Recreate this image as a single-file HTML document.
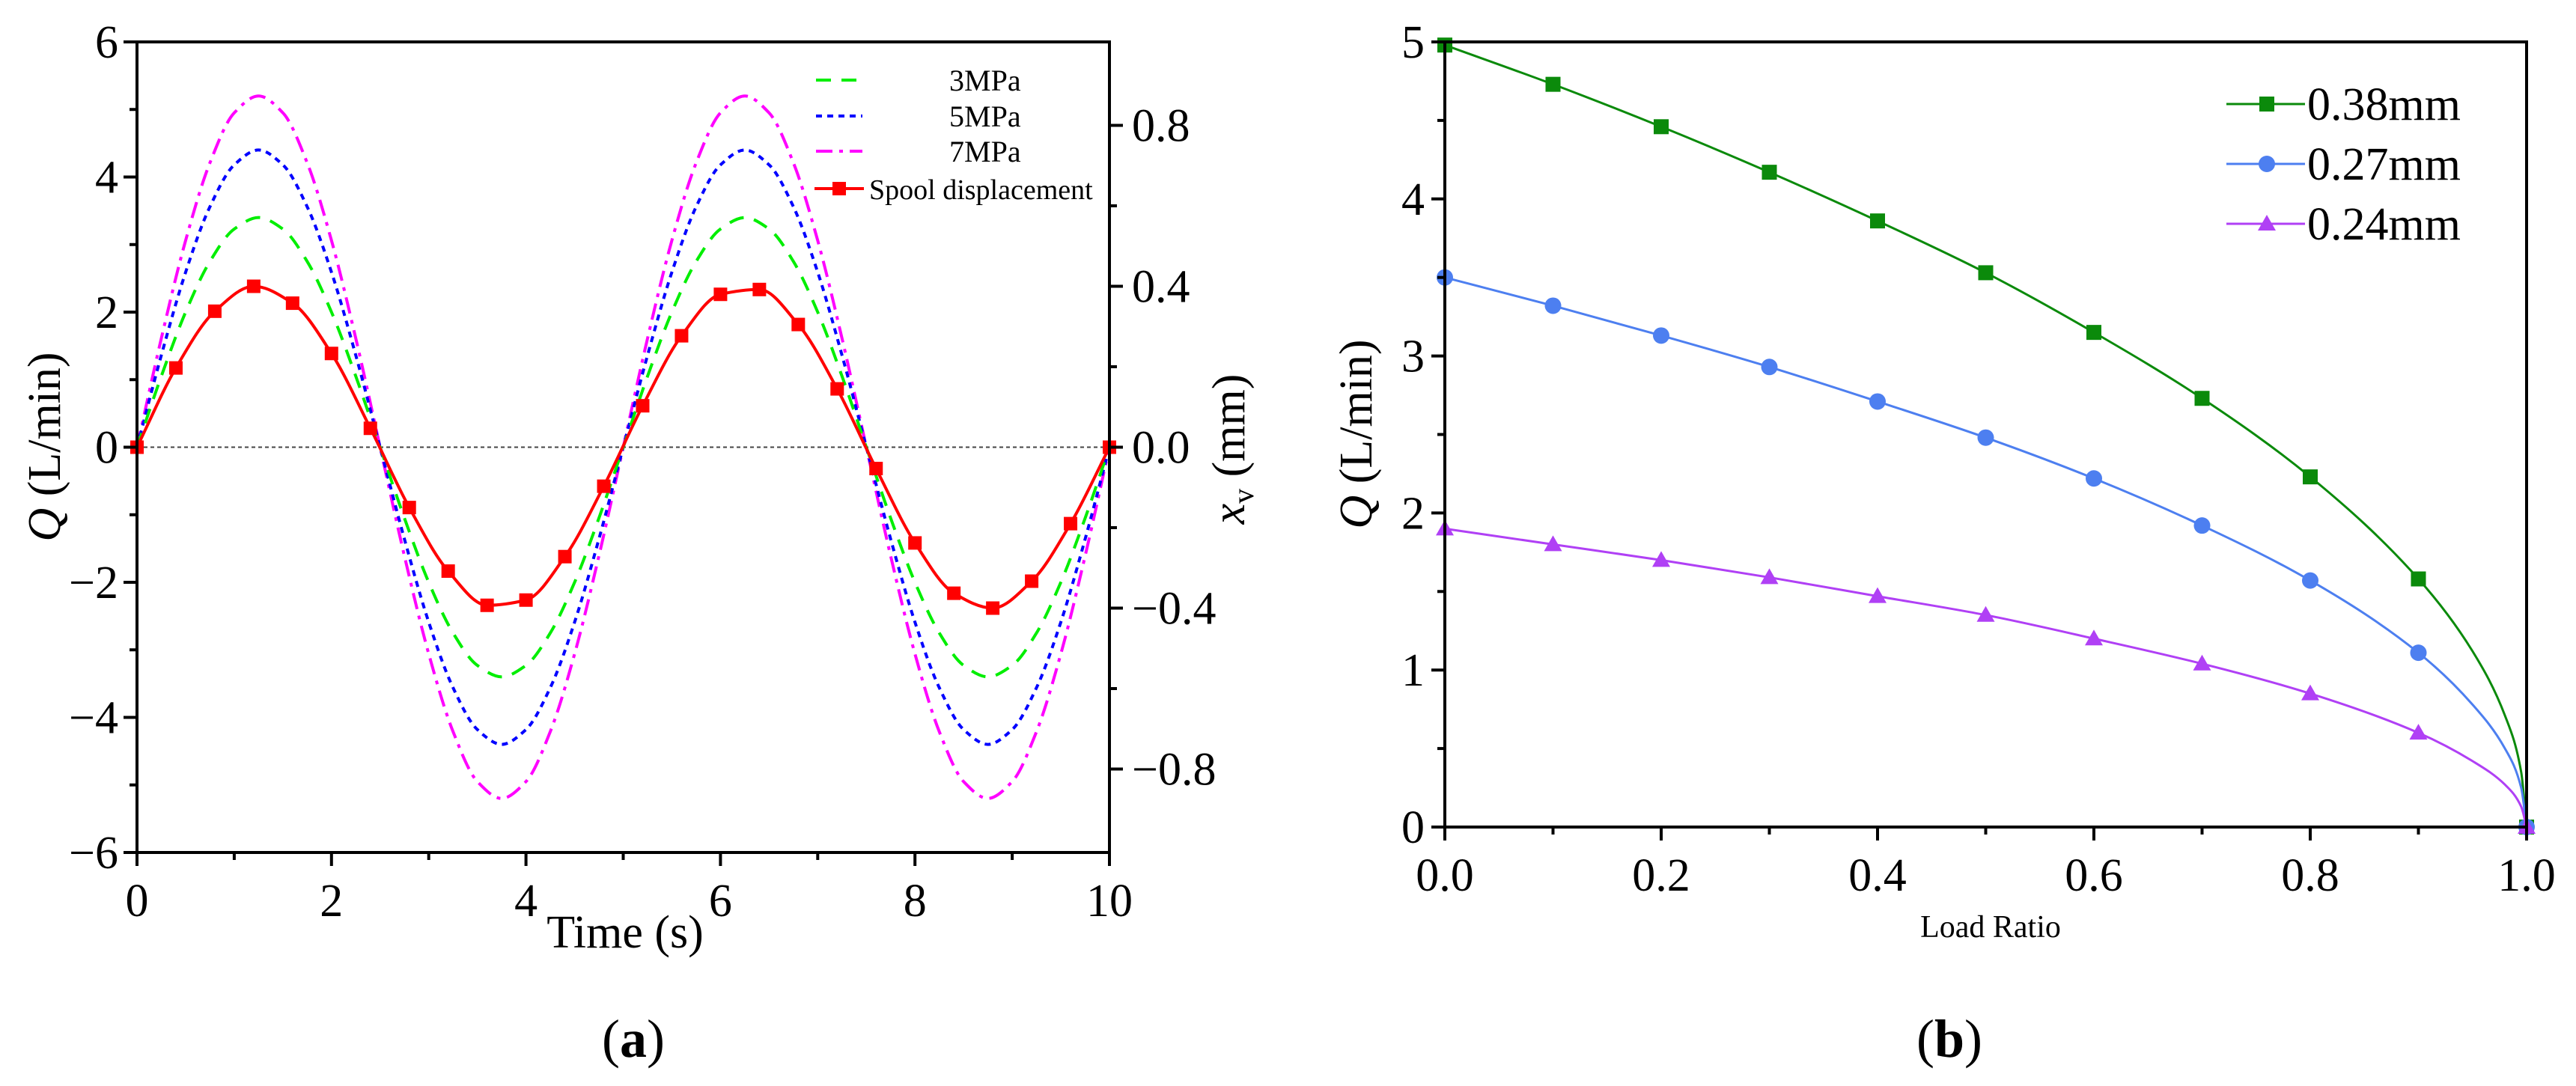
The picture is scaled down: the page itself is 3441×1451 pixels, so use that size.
<!DOCTYPE html>
<html><head><meta charset="utf-8">
<style>
html,body{margin:0;padding:0;background:#fff;}
svg{display:block;font-family:"Liberation Serif","DejaVu Serif",serif;}
text{font-family:"Liberation Serif","DejaVu Serif",serif;}
</style></head>
<body>
<svg id="fig" width="3441" height="1451" viewBox="0 0 3441 1451" xmlns="http://www.w3.org/2000/svg" font-family="Liberation Serif, DejaVu Serif, serif">
<g id="pa"></g>
<g id="pb"></g>
</svg>
<script>
// ---------- Panel (a) data ----------
const aTime = [0,0.25,0.5,0.75,1,1.25,1.5,1.75,2,2.25,2.5,2.75,3,3.25,3.5,3.75,4,4.25,4.5,4.75,5,5.25,5.5,5.75,6,6.25,6.5,6.75,7,7.25,7.5,7.75,8,8.25,8.5,8.75,9,9.25,9.5,9.75,10];
const aQ3 = [0,1.05,2.0,2.75,3.23,3.4,3.23,2.75,2.0,1.05,0,-1.05,-2.0,-2.75,-3.23,-3.4,-3.23,-2.75,-2.0,-1.05,0,1.05,2.0,2.75,3.23,3.4,3.23,2.75,2.0,1.05,0,-1.05,-2.0,-2.75,-3.23,-3.4,-3.23,-2.75,-2.0,-1.05,0];
const aQ5 = [0,1.36,2.59,3.56,4.18,4.4,4.18,3.56,2.59,1.36,0,-1.36,-2.59,-3.56,-4.18,-4.4,-4.18,-3.56,-2.59,-1.36,0,1.36,2.59,3.56,4.18,4.4,4.18,3.56,2.59,1.36,0,-1.36,-2.59,-3.56,-4.18,-4.4,-4.18,-3.56,-2.59,-1.36,0];
const aQ7 = [0,1.61,3.06,4.21,4.95,5.2,4.95,4.21,3.06,1.61,0,-1.61,-3.06,-4.21,-4.95,-5.2,-4.95,-4.21,-3.06,-1.61,0,1.61,3.06,4.21,4.95,5.2,4.95,4.21,3.06,1.61,0,-1.61,-3.06,-4.21,-4.95,-5.2,-4.95,-4.21,-3.06,-1.61,0];
const aSpoolT = [0,0.4,0.8,1.2,1.6,2.0,2.4,2.8,3.2,3.6,4.0,4.4,4.8,5.2,5.6,6.0,6.4,6.8,7.2,7.6,8.0,8.4,8.8,9.2,9.6,10];
const aSpoolMM = [0,0.197,0.338,0.4,0.358,0.233,0.047,-0.15,-0.308,-0.393,-0.38,-0.272,-0.097,0.103,0.277,0.38,0.392,0.305,0.145,-0.053,-0.238,-0.363,-0.4,-0.333,-0.19,0];
const aXTicks = [0,2,4,6,8,10];
const aYTicks = [-6,-4,-2,0,2,4,6];
const aY2Ticks = [-0.8,-0.4,0.0,0.4,0.8];
const aY2Labels = ["\u22120.8","\u22120.4","0.0","0.4","0.8"];

// ---------- Panel (b) data ----------
const bX = [0,0.1,0.2,0.3,0.4,0.5,0.6,0.7,0.8,0.9,1.0];
const b38 = [4.98,4.73,4.46,4.17,3.86,3.53,3.15,2.73,2.23,1.58,0];
const b27 = [3.50,3.32,3.13,2.93,2.71,2.48,2.22,1.92,1.57,1.11,0];
const b24 = [1.90,1.80,1.70,1.59,1.47,1.35,1.20,1.04,0.85,0.60,0];
const bTailX = [0.95,0.98,0.995];
const b38Tail = [1.12,0.71,0.35];
const b27Tail = [0.78,0.50,0.25];
const b24Tail = [0.42,0.27,0.13];
const bXTicks = [0,0.2,0.4,0.6,0.8,1.0];
const bXLabels = ["0.0","0.2","0.4","0.6","0.8","1.0"];
const bYTicks = [0,1,2,3,4,5];

const NS="http://www.w3.org/2000/svg";
function mk(tag,parent,attrs,text){const e=document.createElementNS(NS,tag);for(const k in attrs)e.setAttribute(k,attrs[k]);if(text!==undefined)e.textContent=text;parent.appendChild(e);return e;}
function monotonePath(px,py){
  const n=px.length; if(n<2) return "";
  const d=[],m=new Array(n);
  for(let i=0;i<n-1;i++) d.push((py[i+1]-py[i])/(px[i+1]-px[i]));
  m[0]=d[0]; m[n-1]=d[n-2];
  for(let i=1;i<n-1;i++){ if(d[i-1]*d[i]<=0) m[i]=0; else { const h0=px[i]-px[i-1],h1=px[i+1]-px[i]; const w1=2*h1+h0,w2=h1+2*h0; m[i]=(w1+w2)/(w1/d[i-1]+w2/d[i]); } }
  let s="M"+px[0].toFixed(2)+","+py[0].toFixed(2);
  for(let i=0;i<n-1;i++){const h=(px[i+1]-px[i])/3;
    s+=" C"+(px[i]+h).toFixed(2)+","+(py[i]+m[i]*h).toFixed(2)+" "+(px[i+1]-h).toFixed(2)+","+(py[i+1]-m[i+1]*h).toFixed(2)+" "+px[i+1].toFixed(2)+","+py[i+1].toFixed(2);}
  return s;
}

// ================= Panel A =================
(function(){
const g=document.getElementById('pa');
const L=183,R=1482,T=56,B=1139;
const x=t=>L+(t-0)/(10-0)*(R-L);
const y=q=>B-(q-(-6))/(12)*(B-T);
const y2=v=>(T+B)/2 - v*537.5;

let e;
e=mk('line',g,{x1:L,y1:y(0),x2:R,y2:y(0),stroke:'#444','stroke-width':2,'stroke-dasharray':'5,4'});
 

const series=[
 {v:aQ7,c:'#ff00ff',dash:'22,9,5,9',name:'series-7mpa'},
 {v:aQ5,c:'#0000ff',dash:'8,7',name:'series-5mpa'},
 {v:aQ3,c:'#00ee00',dash:'20,14',name:'series-3mpa'}
];
series.forEach(s=>{
  const p=mk('path',g,{d:monotonePath(aTime.map(x),s.v.map(y)),fill:'none',stroke:s.c,'stroke-width':4,'stroke-dasharray':s.dash});
   
});
const sp=mk('path',g,{d:monotonePath(aSpoolT.map(x),aSpoolMM.map(y2)),fill:'none',stroke:'#ff0000','stroke-width':4});
 
aSpoolT.forEach((t,i)=>{
  const r=mk('rect',g,{x:x(t)-9,y:y2(aSpoolMM[i])-9,width:18,height:18,fill:'#ff0000'});
   
});

e=mk('rect',g,{x:L,y:T,width:R-L,height:B-T,fill:'none',stroke:'#000','stroke-width':4});
 

for(let v=0;v<=10;v++){const major=v%2===0;
  e=mk('line',g,{x1:x(v),y1:B,x2:x(v),y2:B+(major?18:10),stroke:'#000','stroke-width':4});
   }
aXTicks.forEach(v=>{e=mk('text',g,{x:x(v),y:1224,'font-size':62,'text-anchor':'middle'},String(v));
   });
for(let v=-6;v<=6;v++){const major=v%2===0;
  e=mk('line',g,{x1:L,y1:y(v),x2:L-(major?18:10),y2:y(v),stroke:'#000','stroke-width':4});
   }
aYTicks.forEach(v=>{e=mk('text',g,{x:158,y:y(v)+21,'font-size':62,'text-anchor':'end'},v<0?'\u2212'+(-v):String(v));
   });
for(let k=-4;k<=4;k++){const v=k*0.2;const major=k%2===0;
  e=mk('line',g,{x1:R,y1:y2(v),x2:R+(major?18:10),y2:y2(v),stroke:'#000','stroke-width':4});
   }
aY2Ticks.forEach((v,i)=>{e=mk('text',g,{x:1512,y:y2(v)+21,'font-size':62,'text-anchor':'start'},aY2Labels[i]);
   });

e=mk('text',g,{x:835,y:1266,'font-size':62,'text-anchor':'middle'},'Time (s)');
 
const yt=mk('text',g,{transform:'translate(80,597) rotate(-90)','font-size':62,'text-anchor':'middle'});
 
mk('tspan',yt,{'font-style':'italic'},'Q');mk('tspan',yt,{},' (L/min)');
const y2t=mk('text',g,{transform:'translate(1662,600) rotate(-90)','font-size':62,'text-anchor':'middle'});
 
mk('tspan',y2t,{'font-style':'italic'},'x');mk('tspan',y2t,{'font-size':40,dy:12},'v');mk('tspan',y2t,{dy:-12},' (mm)');

const lg=mk('g',g,{});
 
const leg=[['3MPa','#00ee00','20,14',107],['5MPa','#0000ff','8,7',155],['7MPa','#ff00ff','22,9,5,9',202]];
leg.forEach(l=>{
  const it=mk('g',lg,{});
   
  mk('line',it,{x1:1090,y1:l[3],x2:1152,y2:l[3],stroke:l[1],'stroke-width':4,'stroke-dasharray':l[2]});
  mk('text',it,{x:1268,y:l[3]+14,'font-size':40},l[0]);
});
const it=mk('g',lg,{});
 
mk('line',it,{x1:1088,y1:252,x2:1154,y2:252,stroke:'#ff0000','stroke-width':4});
mk('rect',it,{x:1112,y:243,width:18,height:18,fill:'#ff0000'});
mk('text',it,{x:1161,y:266,'font-size':38},'Spool displacement');

e=mk('text',g,{x:846,y:1412,'font-size':72,'text-anchor':'middle'});
 
mk('tspan',e,{},'(');mk('tspan',e,{'font-weight':'bold'},'a');mk('tspan',e,{},')');
})();

// ================= Panel B =================
(function(){
const g=document.getElementById('pb');
const L=1930,R=3375,T=56,B=1105;
const x=v=>L+v*(R-L);
const y=q=>B-q/5*(B-T);
let e;
const ser=[
 {v:b38,tail:b38Tail,c:'#0b8a0b',m:'sq',name:'series-0.38mm'},
 {v:b27,tail:b27Tail,c:'#4d7ff0',m:'ci',name:'series-0.27mm'},
 {v:b24,tail:b24Tail,c:'#b040f5',m:'tr',name:'series-0.24mm'}
];
function marker(par,m,cx,cy,c){
  if(m==='sq') return mk('rect',par,{x:cx-10,y:cy-10,width:20,height:20,fill:c});
  if(m==='ci') return mk('circle',par,{cx:cx,cy:cy,r:11,fill:c});
  return mk('polygon',par,{points:`${cx},${cy-12} ${cx+12},${cy+9} ${cx-12},${cy+9}`,fill:c});
}
ser.forEach(s=>{
  const xs=bX.slice(0,10).concat(bTailX).concat([bX[10]]);
  const ys=s.v.slice(0,10).concat(s.tail).concat([s.v[10]]);
  const p=mk('path',g,{d:monotonePath(xs.map(x),ys.map(y)),fill:'none',stroke:s.c,'stroke-width':3});
   
  bX.forEach((xv,i)=>{const mm=marker(g,s.m,x(xv),y(s.v[i]),s.c);
     });
});
e=mk('rect',g,{x:L,y:T,width:R-L,height:B-T,fill:'none',stroke:'#000','stroke-width':4});
 
for(let k=0;k<=10;k++){const major=k%2===0;
  e=mk('line',g,{x1:x(k/10),y1:B,x2:x(k/10),y2:B+(major?18:10),stroke:'#000','stroke-width':4});
   }
bXTicks.forEach((v,i)=>{e=mk('text',g,{x:x(v),y:1190,'font-size':62,'text-anchor':'middle'},bXLabels[i]);
   });
for(let k=0;k<=10;k++){const major=k%2===0;
  e=mk('line',g,{x1:L,y1:y(k/2),x2:L-(major?18:10),y2:y(k/2),stroke:'#000','stroke-width':4});
   }
bYTicks.forEach(v=>{e=mk('text',g,{x:1903,y:y(v)+21,'font-size':62,'text-anchor':'end'},String(v));
   });
e=mk('text',g,{x:2659,y:1252,'font-size':42,'text-anchor':'middle'},'Load Ratio');
 
const yt=mk('text',g,{transform:'translate(1832,580) rotate(-90)','font-size':62,'text-anchor':'middle'});
 
mk('tspan',yt,{'font-style':'italic'},'Q');mk('tspan',yt,{},' (L/min)');
const lg=mk('g',g,{});
 
const labels=['0.38mm','0.27mm','0.24mm'];const ly=[139,219,299];
ser.forEach((s,i)=>{
  const it=mk('g',lg,{});
   
  mk('line',it,{x1:2974,y1:ly[i],x2:3079,y2:ly[i],stroke:s.c,'stroke-width':3});
  marker(it,s.m,3028,ly[i],s.c);
  mk('text',it,{x:3082,y:ly[i]+21,'font-size':62},labels[i]);
});
e=mk('text',g,{x:2604,y:1412,'font-size':72,'text-anchor':'middle'});
 
mk('tspan',e,{},'(');mk('tspan',e,{'font-weight':'bold'},'b');mk('tspan',e,{},')');
})();
</script>
</body></html>
